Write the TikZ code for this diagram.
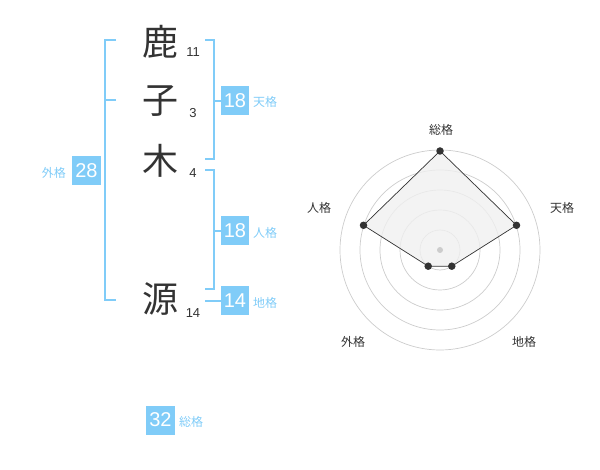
\documentclass[tikz,border=0pt]{standalone}
\usepackage{fontspec}
\usetikzlibrary{calc}
\setmainfont{Noto Sans CJK JP}
\newfontfamily\numfont{Liberation Sans}
\definecolor{skyb}{RGB}{128,204,248}
\definecolor{txt}{RGB}{51,51,51}
\definecolor{ring}{RGB}{204,204,204}
\definecolor{polyfill}{RGB}{240,240,240}
\begin{document}
\begin{tikzpicture}[x=1pt,y=-1pt,
  kanji/.style={font=\fontsize{36}{36}\selectfont, text=txt, inner sep=0pt, anchor=center},
  strokes/.style={font=\numfont\fontsize{13}{13}\selectfont, text=txt, inner sep=0pt},
  valbox/.style={fill=skyb, text=white, font=\numfont\fontsize{20}{20}\selectfont, minimum width=28.5, minimum height=29, inner sep=0pt},
  vallabel/.style={text=skyb, font=\fontsize{12}{12}\selectfont, inner sep=0pt, anchor=west},
  bracket/.style={draw=skyb, line width=1.6pt},
  radlabel/.style={text=txt, font=\fontsize{12}{12}\selectfont, inner sep=0pt},
  ringline/.style={draw=ring, line width=0.7pt},
  dot/.style={circle, fill=txt, inner sep=0pt, minimum size=7.5},
]
\useasboundingbox (0,0) rectangle (600,470);
% characters
\node[kanji] (c1) at (160,42) {鹿};
\node[kanji] (c2) at (160,101) {子};
\node[kanji] (c3) at (160,161) {木};
\node[kanji] (c4) at (160,299) {源};
\node[strokes] (n1) at (193,52) {11};
\node[strokes] (n2) at (193,113) {3};
\node[strokes] (n3) at (193,173) {4};
\node[strokes] (n4) at (193,313) {14};
% brackets
\coordinate (la) at (116,40); \coordinate (lb) at (116,100); \coordinate (lc) at (116,300);
\draw[bracket] (la) -- (105,40) -- (105,300) -- (lc);
\draw[bracket] (lb) -- (105,100);
\draw[bracket] (205,40) -- (214,40) -- (214,159) -- (205,159);
\draw[bracket] (205,170) -- (214,170) -- (214,289) -- (205,289);
% value boxes
\node[valbox] (ten) at (235,101) {18};
\node[valbox] (jin) at (235,231) {18};
\node[valbox] (chi) at (235,301) {14};
\node[valbox] (gai) at (86.5,171) {28};
\node[valbox] (sou) at (160.5,420) {32};
\draw[bracket] (214,101) -- (ten.west);
\draw[bracket] (214,231) -- (jin.west);
\draw[bracket] (205,301) -- (chi.west);
\node[vallabel] (tenl) at (253,102) {天格};
\node[vallabel] (jinl) at (253,233) {人格};
\node[vallabel] (chil) at (253,303) {地格};
\node[vallabel, anchor=east] (gail) at (66,173) {外格};
\node[vallabel] (soul) at (179,422) {総格};
% radar
\coordinate (O) at (440,250);
\foreach \r in {20,40,60,80,100} { \draw[ringline] (O) circle[radius=\r]; }
\coordinate (p1) at ($(O)+(0,-99)$);
\coordinate (p2) at ($(O)+(76.5,-24.7)$);
\coordinate (p3) at ($(O)+(11.8,16.2)$);
\coordinate (p4) at ($(O)+(-11.8,16.2)$);
\coordinate (p5) at ($(O)+(-76.5,-24.7)$);
\filldraw[fill=polyfill, fill opacity=0.8, draw=txt, line width=0.7pt] (p1) -- (p2) -- (p3) -- (p4) -- (p5) -- cycle;
\node[circle, fill=ring, inner sep=0pt, minimum size=6] (ctr) at (O) {};
\foreach \p in {p1,p2,p3,p4,p5} { \node[dot] at (\p) {}; }
\node[radlabel] (r1) at (441,130) {総格};
\node[radlabel] (r2) at (562,208) {天格};
\node[radlabel] (r3) at (524,342) {地格};
\node[radlabel] (r4) at (353,342) {外格};
\node[radlabel] (r5) at (319,208) {人格};
\end{tikzpicture}
\end{document}
